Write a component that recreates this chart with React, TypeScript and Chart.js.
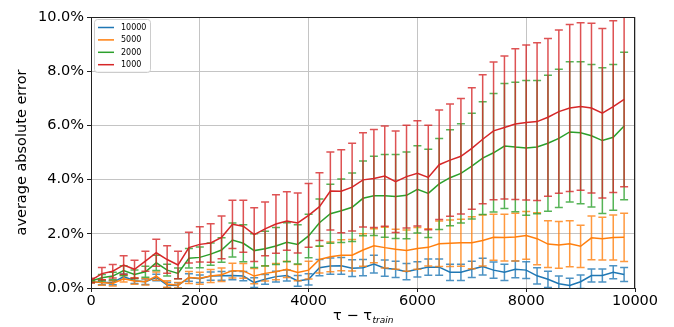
import React, { useEffect, useRef } from "react";
import { Chart, registerables } from "chart.js";

Chart.register(...registerables);

// Offset from the end of training (x axis)
const steps = [
  0, 200, 400, 600, 800, 1000, 1200, 1400, 1600, 1800,
  2000, 2200, 2400, 2600, 2800, 3000, 3200, 3400, 3600, 3800,
  4000, 4200, 4400, 4600, 4800, 5000, 5200, 5400, 5600, 5800,
  6000, 6200, 6400, 6600, 6800, 7000, 7200, 7400, 7600, 7800,
  8000, 8200, 8400, 8600, 8800, 9000, 9200, 9400, 9600, 9800,
];

const seriesLabels = ["10000", "5000", "2000", "1000"];
const seriesColors = ["#1f77b4", "#ff7f0e", "#2ca02c", "#d62728"];

// Mean absolute error (%) per series
const mean10000 = [
  0.23, 0.2, 0.2, 0.42, 0.27, 0.23, 0.39, 0.11, 0.09, 0.39,
  0.34, 0.44, 0.45, 0.46, 0.44, 0.2, 0.32, 0.42, 0.46, 0.26,
  0.32, 0.75, 0.81, 0.82, 0.73, 0.75, 0.88, 0.73, 0.69, 0.6,
  0.69, 0.77, 0.77, 0.58, 0.58, 0.69, 0.79, 0.66, 0.58, 0.69,
  0.66, 0.45, 0.32, 0.16, 0.09, 0.23, 0.46, 0.46, 0.58, 0.5,
];
const mean5000 = [
  0.23, 0.2, 0.17, 0.34, 0.26, 0.23, 0.44, 0.15, 0.1, 0.39,
  0.36, 0.44, 0.49, 0.64, 0.63, 0.44, 0.54, 0.6, 0.69, 0.57,
  0.66, 1.05, 1.15, 1.21, 1.21, 1.4, 1.56, 1.49, 1.43, 1.38,
  1.46, 1.5, 1.63, 1.65, 1.67, 1.67, 1.75, 1.87, 1.86, 1.88,
  1.94, 1.82, 1.62, 1.59, 1.63, 1.54, 1.85, 1.82, 1.86, 1.87,
];
const mean2000 = [
  0.26, 0.38, 0.44, 0.64, 0.5, 0.6, 0.93, 0.66, 0.54, 1.1,
  1.13, 1.25, 1.4, 1.77, 1.65, 1.38, 1.45, 1.55, 1.69, 1.61,
  1.92, 2.41, 2.74, 2.85, 2.98, 3.31, 3.4, 3.4, 3.38, 3.42,
  3.64, 3.49, 3.84, 4.07, 4.23, 4.5, 4.79, 4.99, 5.24, 5.2,
  5.17, 5.2, 5.34, 5.52, 5.76, 5.73, 5.62, 5.44, 5.56, 5.98,
];
const mean1000 = [
  0.28, 0.53, 0.62, 0.85, 0.69, 0.99, 1.3, 1.05, 0.85, 1.49,
  1.61, 1.66, 1.87, 2.35, 2.28, 1.97, 2.18, 2.36, 2.47, 2.4,
  2.68, 3.0, 3.58, 3.57, 3.72, 3.99, 4.04, 4.13, 3.92, 4.11,
  4.23, 4.08, 4.55, 4.72, 4.86, 5.15, 5.49, 5.8, 5.92, 6.05,
  6.11, 6.14, 6.3, 6.51, 6.64, 6.7, 6.64, 6.45, 6.69, 6.96,
];

// Standard deviation (%) per series, drawn as symmetric error bars
const std10000 = [
  0.05, 0.08, 0.08, 0.1, 0.1, 0.1, 0.12, 0.1, 0.1, 0.14,
  0.14, 0.15, 0.16, 0.16, 0.17, 0.18, 0.18, 0.2, 0.2, 0.2,
  0.21, 0.3, 0.3, 0.31, 0.31, 0.3, 0.33, 0.3, 0.3, 0.3,
  0.28, 0.3, 0.3, 0.3, 0.3, 0.3, 0.31, 0.3, 0.3, 0.31,
  0.31, 0.3, 0.3, 0.28, 0.27, 0.25, 0.24, 0.24, 0.24, 0.26,
];
const std5000 = [
  0.05, 0.1, 0.1, 0.12, 0.12, 0.12, 0.15, 0.12, 0.1, 0.22,
  0.22, 0.24, 0.25, 0.27, 0.27, 0.28, 0.28, 0.3, 0.3, 0.3,
  0.33, 0.5, 0.55, 0.57, 0.58, 0.6, 0.63, 0.75, 0.74, 0.76,
  0.77, 0.69, 0.84, 0.86, 0.87, 0.96, 0.94, 0.85, 0.86, 0.88,
  0.88, 0.96, 0.86, 0.86, 0.85, 0.78, 0.81, 0.79, 0.83, 0.89,
];
const std2000 = [
  0.05, 0.12, 0.14, 0.18, 0.16, 0.2, 0.28, 0.22, 0.2, 0.36,
  0.38, 0.41, 0.45, 0.63, 0.68, 0.62, 0.64, 0.68, 0.72, 0.72,
  0.8, 0.87, 1.09, 1.17, 1.26, 1.38, 1.46, 1.53, 1.55, 1.6,
  1.61, 1.63, 1.68, 1.77, 1.83, 1.95, 2.08, 2.19, 2.31, 2.39,
  2.49, 2.46, 2.51, 2.55, 2.59, 2.62, 2.63, 2.69, 2.69, 2.72,
];
const std1000 = [
  0.08, 0.23, 0.25, 0.34, 0.33, 0.37, 0.5, 0.51, 0.51, 0.57,
  0.65, 0.71, 0.79, 0.89, 0.96, 0.99, 0.99, 1.08, 1.08, 1.11,
  1.18, 1.25, 1.44, 1.53, 1.62, 1.74, 1.81, 1.85, 1.87, 1.9,
  1.94, 1.93, 2.02, 2.07, 2.13, 2.24, 2.38, 2.54, 2.64, 2.78,
  2.86, 2.91, 2.91, 3.01, 3.08, 3.09, 3.13, 3.13, 3.17, 3.22,
];

const xTicks = [0, 2000, 4000, 6000, 8000, 10000];
const yTicks = [0, 2, 4, 6, 8, 10];

const means = [mean10000, mean5000, mean2000, mean1000];
const stds = [std10000, std5000, std2000, std1000];

const FONT = '"DejaVu Sans", sans-serif';

function withAlpha(hex: string, a: number) {
  const n = parseInt(hex.slice(1), 16);
  return `rgba(${(n >> 16) & 255},${(n >> 8) & 255},${n & 255},${a})`;
}

// Vertical error bars with caps, drawn right after each series' line
const errorBarPlugin = {
  id: "errorBars",
  afterDatasetDraw(chart: any, args: any) {
    const i = args.index;
    const sd = stds[i];
    if (!sd) return;
    const { ctx, chartArea } = chart;
    const ys = chart.scales.y;
    const meta = args.meta;
    ctx.save();
    ctx.beginPath();
    ctx.rect(chartArea.left, chartArea.top, chartArea.right - chartArea.left, chartArea.bottom - chartArea.top);
    ctx.clip();
    ctx.strokeStyle = withAlpha(seriesColors[i], 0.8);
    ctx.lineWidth = 1.5;
    const cap = 4;
    meta.data.forEach((pt: any, k: number) => {
      const m = means[i][k];
      const top = ys.getPixelForValue(m + sd[k]);
      const bot = ys.getPixelForValue(m - sd[k]);
      const x = pt.x;
      ctx.beginPath();
      ctx.moveTo(x, top);
      ctx.lineTo(x, bot);
      ctx.moveTo(x - cap, top);
      ctx.lineTo(x + cap, top);
      ctx.moveTo(x - cap, bot);
      ctx.lineTo(x + cap, bot);
      ctx.stroke();
    });
    ctx.restore();
  },
};

// Plot frame, x-axis title with subscript, and the inset legend
const decorPlugin = {
  id: "decor",
  afterDatasetsDraw(chart: any) {
    const { ctx, chartArea: a } = chart;
    ctx.save();
    ctx.strokeStyle = "#222";
    ctx.lineWidth = 1;
    ctx.strokeRect(a.left + 0.5, a.top + 0.5, a.right - a.left - 1, a.bottom - a.top);
    ctx.restore();
  },
  afterDraw(chart: any) {
    const { ctx, chartArea: a } = chart;
    ctx.save();
    // x-axis title: τ − τ_train
    const main = "\u03c4 \u2212 \u03c4";
    const sub = "train";
    const mainFont = `14.5px ${FONT}`;
    const subFont = `italic 9px ${FONT}`;
    ctx.fillStyle = "#000";
    ctx.textBaseline = "alphabetic";
    ctx.font = mainFont;
    const wMain = ctx.measureText(main).width;
    ctx.font = subFont;
    const wSub = ctx.measureText(sub).width;
    const cx = (a.left + a.right) / 2;
    const x0 = cx - (wMain + wSub) / 2;
    const base = 320;
    ctx.font = mainFont;
    ctx.fillText(main, x0, base);
    ctx.font = subFont;
    ctx.fillText(sub, x0 + wMain + 0.5, base + 3);

    // legend box
    const lx = a.left + 3;
    const ly = a.top + 2;
    const lw = 56;
    const lh = 53;
    ctx.fillStyle = "rgba(255,255,255,0.8)";
    ctx.strokeStyle = "#cccccc";
    ctx.lineWidth = 1;
    ctx.beginPath();
    ctx.roundRect(lx + 0.5, ly + 0.5, lw, lh, 3);
    ctx.fill();
    ctx.stroke();
    ctx.font = `8px ${FONT}`;
    ctx.textBaseline = "middle";
    seriesLabels.forEach((lab, i) => {
      const y = ly + 8.5 + i * 12.4;
      ctx.strokeStyle = seriesColors[i];
      ctx.lineWidth = 1.5;
      ctx.beginPath();
      ctx.moveTo(lx + 4, y);
      ctx.lineTo(lx + 20, y);
      ctx.stroke();
      ctx.fillStyle = "#000";
      ctx.fillText(lab, lx + 27, y + 0.5);
    });
    ctx.restore();
  },
};

export default function App() {
  const ref = useRef<HTMLCanvasElement | null>(null);

  useEffect(() => {
    const canvas = ref.current;
    if (!canvas) return;
    const datasets = seriesLabels.map((label, i) => ({
      label,
      data: steps.map((s, k) => ({ x: s, y: means[i][k] })),
      borderColor: seriesColors[i],
      backgroundColor: seriesColors[i],
      borderWidth: 1.5,
      pointRadius: 0,
      tension: 0,
      fill: false,
      // later series sit on top
      order: seriesLabels.length - i,
    }));

    const chart = new Chart(canvas, {
      type: "line",
      data: { datasets },
      options: {
        animation: false,
        responsive: false,
        devicePixelRatio: 1,
        layout: { padding: { left: 0, top: 17, right: 39, bottom: 0 } },
        plugins: {
          legend: { display: false },
          tooltip: { enabled: false },
        },
        scales: {
          x: {
            type: "linear",
            min: 0,
            max: 10000,
            afterFit: (s: any) => {
              s.height = 39;
            },
            afterBuildTicks: (s: any) => {
              s.ticks = xTicks.map((v) => ({ value: v }));
            },
            ticks: {
              color: "#000",
              font: { family: FONT, size: 14.5 },
              padding: 1,
              maxRotation: 0,
              callback: (v: any) => String(v),
            },
            grid: {
              color: "#c4c4c4",
              lineWidth: 1,
              tickLength: 4,
              tickColor: "#222",
            },
            border: { display: false },
          },
          y: {
            type: "linear",
            min: 0,
            max: 10,
            afterFit: (s: any) => {
              s.width = 91;
            },
            afterBuildTicks: (s: any) => {
              s.ticks = yTicks.map((v) => ({ value: v }));
            },
            ticks: {
              color: "#000",
              font: { family: FONT, size: 14.5 },
              padding: 3,
              callback: (v: any) => Number(v).toFixed(1) + "%",
            },
            title: {
              display: true,
              text: "average absolute error",
              color: "#000",
              font: { family: FONT, size: 14.5 },
              padding: { top: 14, bottom: 0 },
            },
            grid: {
              color: "#c4c4c4",
              lineWidth: 1,
              tickLength: 4,
              tickColor: "#222",
            },
            border: { display: false },
          },
        },
      },
      plugins: [errorBarPlugin, decorPlugin],
    } as any);

    return () => chart.destroy();
  }, []);

  return (
    <div style={{ position: "fixed", left: 0, top: 0, width: 674, height: 327, background: "#fff" }}>
      <canvas ref={ref} width={674} height={327} style={{ display: "block" }} />
    </div>
  );
}
